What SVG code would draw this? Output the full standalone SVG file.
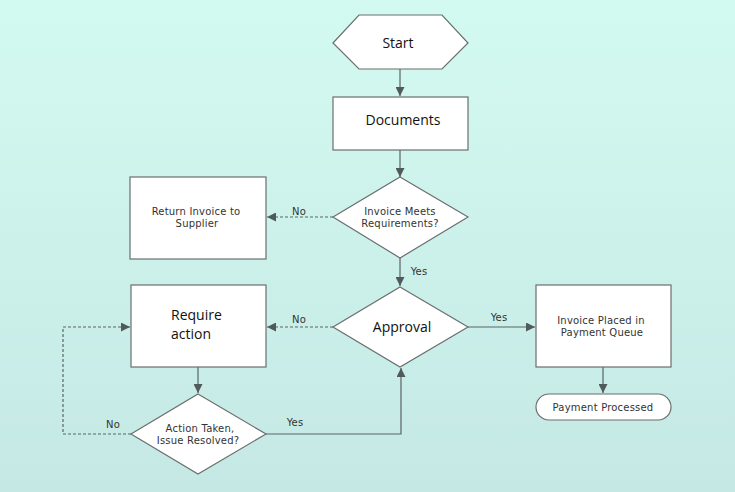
<svg xmlns="http://www.w3.org/2000/svg" width="735" height="492" viewBox="0 0 735 492">
<defs>
<linearGradient id="bg" x1="0" y1="0" x2="0" y2="1">
<stop offset="0" stop-color="#d3faf1"/>
<stop offset="1" stop-color="#c5e8e4"/>
</linearGradient>
<marker id="ah" viewBox="0 0 10 10" refX="10" refY="5" markerWidth="9" markerHeight="9" markerUnits="userSpaceOnUse" orient="auto">
<path d="M0,0 L10,5 L0,10 Z" fill="#505a5a"/>
</marker>
<style>
.shape{fill:#ffffff;stroke:#6a6f6f;stroke-width:1.2}
.line{fill:none;stroke:#5a6464;stroke-width:1.2}
.dash{fill:none;stroke:#5a6464;stroke-width:1.2;stroke-dasharray:3,2}
.big{font-family:"Open Sans","Noto Sans",sans-serif;font-size:14px;fill:#111}
.small{font-family:"DejaVu Sans",Verdana,sans-serif;font-size:10px;letter-spacing:0.2px;fill:#333}
.lbl{font-family:"DejaVu Sans",Verdana,sans-serif;font-size:10px;letter-spacing:0.2px;fill:#333}
</style>
</defs>
<rect width="735" height="492" fill="url(#bg)"/>
<g id="connectors">
<path class="line" d="M400,69 V96" marker-end="url(#ah)"/>
<path class="line" d="M400,150 V177" marker-end="url(#ah)"/>
<path class="dash" d="M333,217 H267" marker-end="url(#ah)"/>
<path class="line" d="M400,258 V286" marker-end="url(#ah)"/>
<path class="dash" d="M333,327 H267" marker-end="url(#ah)"/>
<path class="line" d="M468,327 H535" marker-end="url(#ah)"/>
<path class="line" d="M198,367 V393" marker-end="url(#ah)"/>
<path class="dash" d="M131,434 H63 V327 H130" marker-end="url(#ah)"/>
<path class="line" d="M266,434 H401 V368" marker-end="url(#ah)"/>
<path class="line" d="M603,367 V393" marker-end="url(#ah)"/>
<text class="lbl" x="299" y="215" text-anchor="middle">No</text>
<text class="lbl" x="419" y="275" text-anchor="middle">Yes</text>
<text class="lbl" x="299" y="323" text-anchor="middle">No</text>
<text class="lbl" x="499" y="321" text-anchor="middle">Yes</text>
<text class="lbl" x="113" y="428" text-anchor="middle">No</text>
<text class="lbl" x="295" y="426" text-anchor="middle">Yes</text>
</g>
<g id="start">
<polygon class="shape" points="333,43 359,15 442,15 468,43 442,69 359,69"/>
<text class="big" x="398" y="48" text-anchor="middle">Start</text>
</g>
<g id="documents">
<rect class="shape" x="333" y="97" width="135" height="53"/>
<text class="big" x="403" y="125" text-anchor="middle">Documents</text>
</g>
<g id="meets">
<polygon class="shape" points="400,177 468,217 400,258 333,217"/>
<text class="small" x="400" y="215" text-anchor="middle">Invoice Meets</text>
<text class="small" x="400" y="227" text-anchor="middle">Requirements?</text>
</g>
<g id="return">
<rect class="shape" x="130" y="177" width="136" height="82"/>
<text class="small" x="196" y="215" text-anchor="middle">Return Invoice to</text>
<text class="small" x="197" y="227" text-anchor="middle">Supplier</text>
</g>
<g id="approval">
<polygon class="shape" points="400,287 468,327 400,367 333,327"/>
<text class="big" x="402" y="332" text-anchor="middle">Approval</text>
</g>
<g id="require">
<rect class="shape" x="131" y="285" width="135" height="82"/>
<text class="big" x="171" y="320">Require</text>
<text class="big" x="171" y="339">action</text>
</g>
<g id="resolved">
<polygon class="shape" points="198,394 266,434 198,474 131,434"/>
<text class="small" x="200" y="432" text-anchor="middle">Action Taken,</text>
<text class="small" x="198" y="444" text-anchor="middle">Issue Resolved?</text>
</g>
<g id="queue">
<rect class="shape" x="536" y="285" width="135" height="82"/>
<text class="small" x="601" y="324" text-anchor="middle">Invoice Placed in</text>
<text class="small" x="602" y="336" text-anchor="middle">Payment Queue</text>
</g>
<g id="processed">
<rect class="shape" x="536" y="394" width="135" height="26" rx="13" ry="13"/>
<text class="small" x="603" y="411" text-anchor="middle">Payment Processed</text>
</g>
</svg>
